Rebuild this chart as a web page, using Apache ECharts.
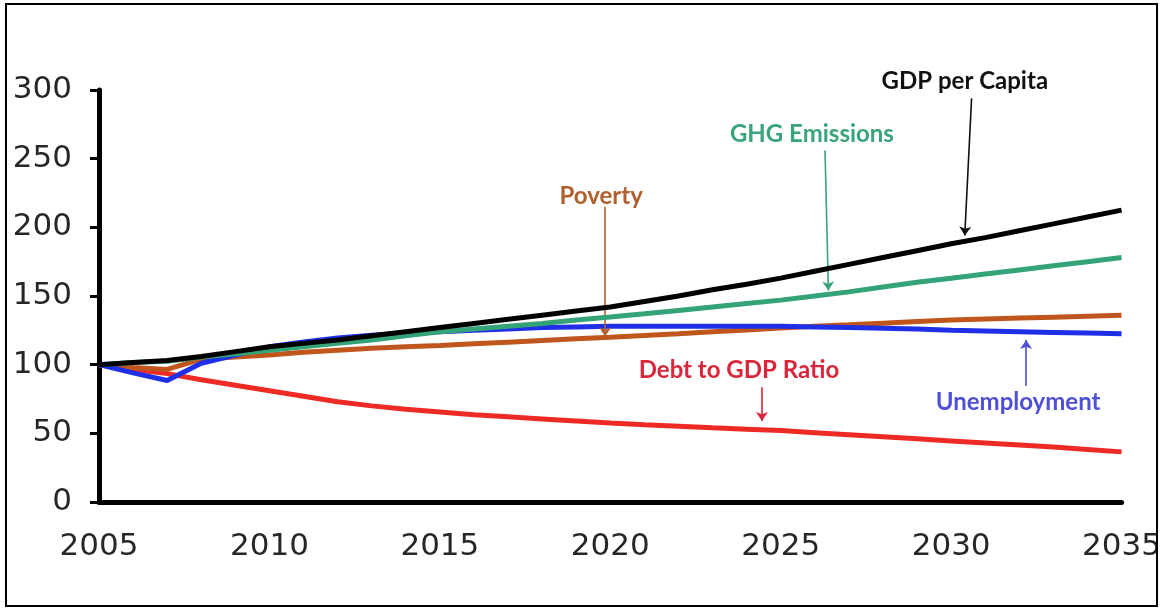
<!DOCTYPE html>
<html>
<head>
<meta charset="utf-8">
<title>Projected indicators, 2005 = 100</title>
<script src="https://cdn.jsdelivr.net/npm/echarts@6/dist/echarts.min.js"></script>
<style>
  html, body { margin: 0; padding: 0; background: #fff; }
  #chart { width: 1164px; height: 608px; }
</style>
</head>
<body>
<div id="chart"></div>
<script>
// Index values (2005 = 100), one value per year
const years = [];
for (let y = 2005; y <= 2035; y++) years.push(y);

const gdpPerCapita = [100, 101.5, 103, 106, 109.5, 113, 115.5, 118, 121, 124, 127,
  130, 133, 136, 139, 142, 146, 150, 154.5, 158.5, 163,
  168, 173, 178, 183, 188, 192.5, 197.5, 202.5, 207.5, 212.5];
const ghgEmissions = [100, 101.5, 102.5, 105.5, 108, 110.5, 113, 115.5, 118, 121, 124,
  126, 128, 130, 132.5, 134.7, 137, 139.5, 142, 144.5, 147,
  150, 153, 156.5, 160, 163, 166, 169, 172, 175, 178];
const unemployment = [100, 94, 88.5, 101, 107, 113, 116.5, 119.5, 121.5, 123, 124,
  125, 126, 127, 127.5, 128, 128, 128, 128, 128, 128,
  127.5, 127, 126.5, 126, 125, 124.5, 124, 123.5, 123, 122.5];
const poverty = [100, 98, 96.5, 104, 105.5, 107, 109, 110.5, 112, 113, 114,
  115.2, 116.4, 117.6, 118.8, 120, 121.3, 122.6, 124, 125.3, 126.7,
  127.9, 129, 130.2, 131.4, 132.5, 133.2, 133.9, 134.6, 135.3, 136];
const debtToGdp = [100, 96.5, 93.5, 89, 85, 81, 77, 73, 70, 67.5, 65.5,
  63.5, 62, 60.5, 59, 57.5, 56.3, 55.2, 54, 53, 52,
  50.5, 49, 47.5, 46, 44.5, 43, 41.5, 40, 38.3, 36.5];

// Callout arrows: [year, value] of the label end and of the arrow tip
const calloutGdp = [[2030.6, 294], [2030.4, 194]];
const calloutGhg = [[2026.3, 256], [2026.4, 154]];
const calloutPoverty = [[2019.85, 215], [2019.85, 120.5]];
const calloutDebt = [[2024.45, 83.5], [2024.45, 59]];
const calloutUnemp = [[2032.2, 84.5], [2032.2, 118]];

const pairs = vals => years.map((y, i) => [y, vals[i]]);

// shiftLeft moves the centred caption left of its arrow; gap is its distance from the arrow end
function callout(name, pts, color, shiftLeft, gap) {
  return {
    silent: true,
    symbol: ['none', 'arrow'],
    symbolSize: 9,
    lineStyle: { color: color, width: 1.6, type: 'solid' },
    label: {
      show: true,
      position: 'start',
      distance: gap,
      formatter: '{b}',
      color: color,
      fontFamily: 'Lato',
      fontWeight: 'bold',
      fontSize: 24,
      padding: [0, shiftLeft * 2, 0, 0]
    },
    emphasis: { disabled: true },
    data: [[{ name: name, coord: pts[0] }, { coord: pts[1] }]]
  };
}

function lineSeries(name, vals, color, mark, z) {
  return {
    name: name,
    type: 'line',
    data: pairs(vals),
    showSymbol: false,
    smooth: false,
    z: z,
    lineStyle: { color: color, width: 5 },
    itemStyle: { color: color },
    markLine: mark
  };
}

const chart = echarts.init(document.getElementById('chart'), null, { renderer: 'canvas' });
chart.setOption({
  animation: false,
  backgroundColor: '#ffffff',
  grid: { left: 99, right: 37, top: 90, bottom: 106, containLabel: false },
  xAxis: {
    type: 'value',
    min: 2005,
    max: 2035,
    interval: 5,
    axisLine: { show: true, lineStyle: { color: '#000', width: 5 } },
    axisTick: { show: false },
    splitLine: { show: false },
    axisLabel: {
      formatter: v => String(v),
      margin: 29,
      color: '#262626',
      fontFamily: 'DejaVu Sans',
      fontSize: 31
    }
  },
  yAxis: {
    type: 'value',
    min: 0,
    max: 300,
    interval: 50,
    axisLine: { show: true, lineStyle: { color: '#000', width: 5 } },
    axisTick: { show: true, inside: false, length: 9, lineStyle: { color: '#000', width: 3 } },
    splitLine: { show: false },
    axisLabel: {
      margin: 27,
      color: '#262626',
      fontFamily: 'DejaVu Sans',
      fontSize: 31
    }
  },
  series: [
    lineSeries('Debt to GDP Ratio', debtToGdp, '#ee2a24',
      callout('Debt to GDP Ratio', calloutDebt, '#d9263a', 23, 5), 2),
    lineSeries('Poverty', poverty, '#c0561c',
      callout('Poverty', calloutPoverty, '#b0602e', 4, -2), 3),
    lineSeries('Unemployment', unemployment, '#1f2fe8',
      callout('Unemployment', calloutUnemp, '#4f4fd8', 8, 4), 4),
    lineSeries('GHG Emissions', ghgEmissions, '#34a378',
      callout('GHG Emissions', calloutGhg, '#3aa47a', 13, 4), 5),
    lineSeries('GDP per Capita', gdpPerCapita, '#000000',
      callout('GDP per Capita', calloutGdp, '#111111', 7, 5), 6)
  ],
  graphic: [
    {
      type: 'rect',
      z: 100,
      shape: { x: 1158, y: 0, width: 6, height: 608 },
      style: { fill: '#ffffff' }
    },
    {
      type: 'rect',
      z: 101,
      shape: { x: 6, y: 4, width: 1151, height: 602 },
      style: { fill: 'none', stroke: '#000', lineWidth: 2 }
    }
  ]
});
</script>
</body>
</html>
